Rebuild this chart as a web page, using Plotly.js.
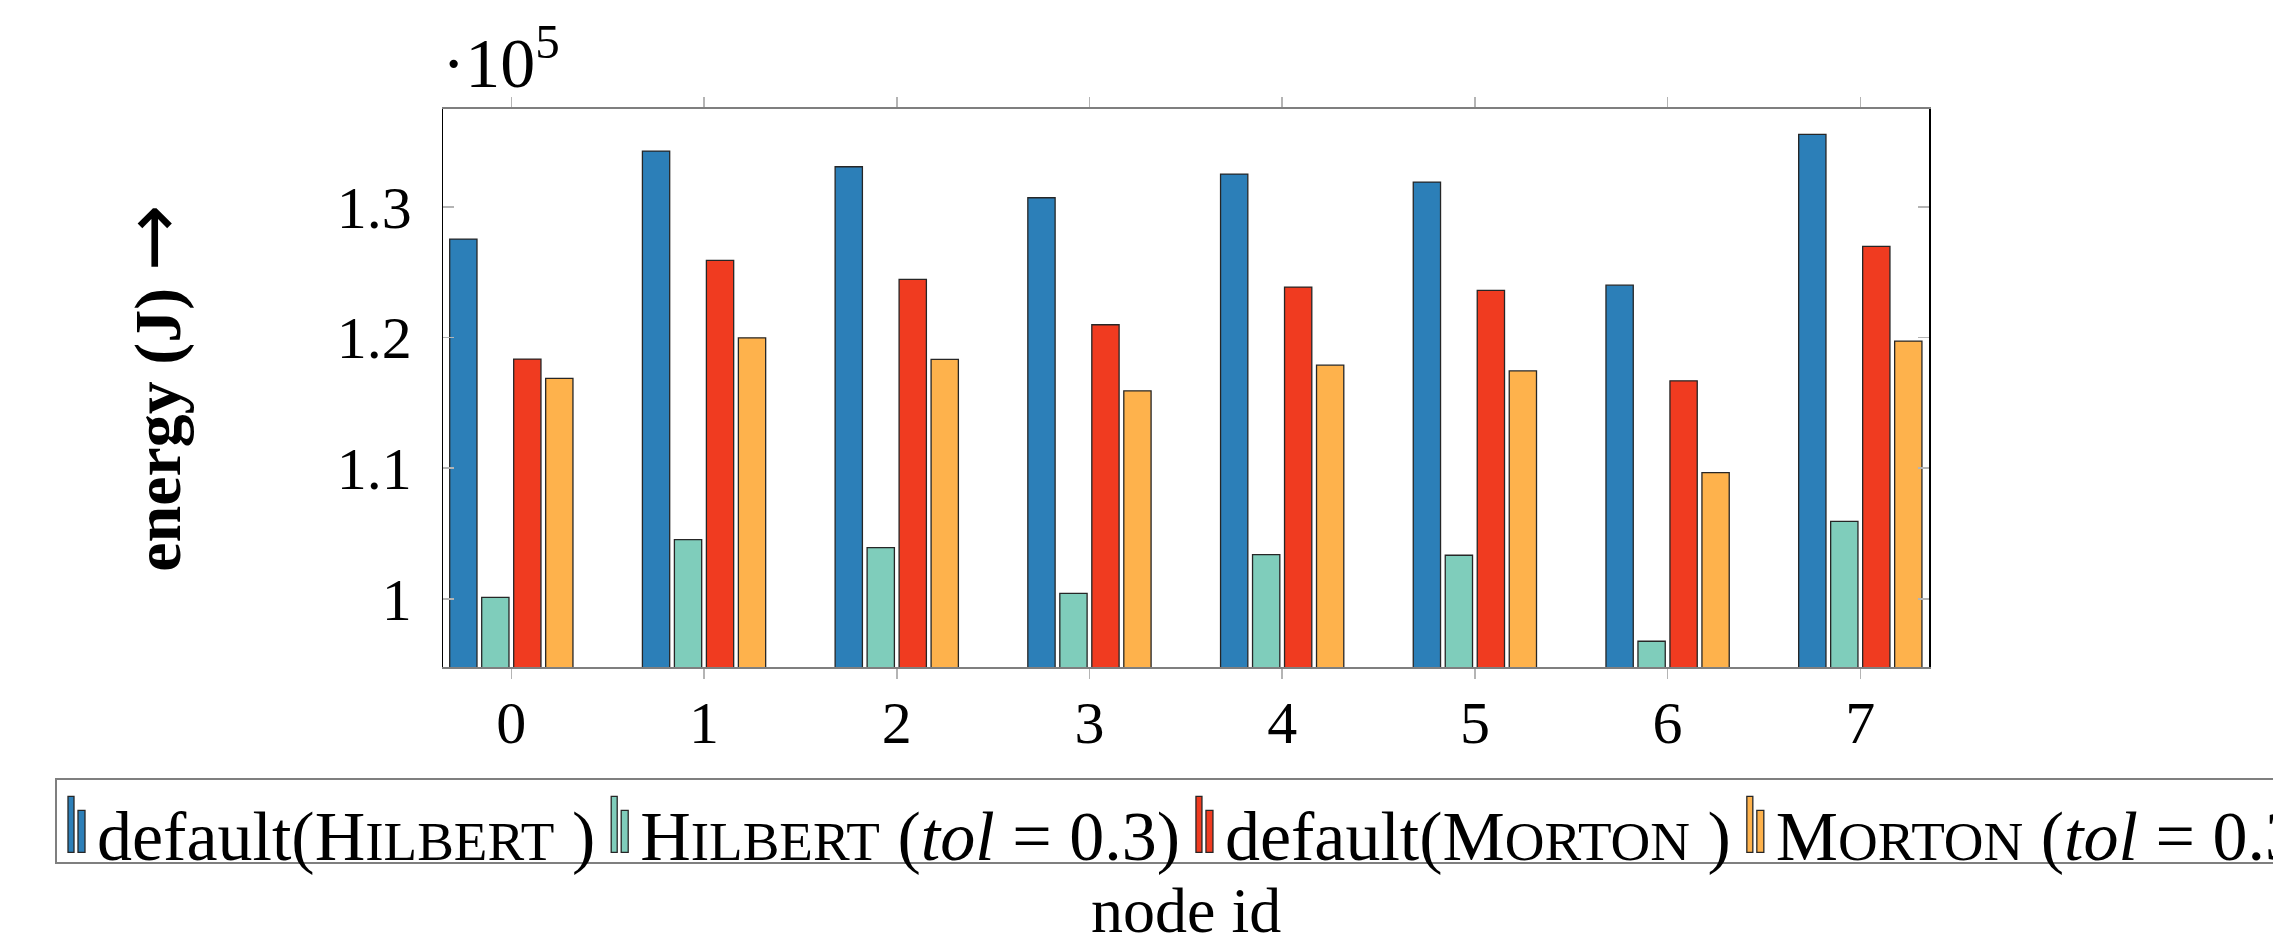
<!DOCTYPE html>
<html>
<head>
<meta charset="utf-8">
<script src="https://cdn.plot.ly/plotly-3.0.1.min.js"></script>
<style>
  html, body { margin: 0; padding: 0; background: #ffffff; overflow: hidden; }
  #chart { width: 2600px; height: 947px; }
  /* pgfplots-style "ybar" legend image: two thin bars */
  #chart .legendpoints path { d: path('M-9,20V-36H-3V20Z M1,20V-22H8V20Z'); }
  /* tighter legend frame, as in the reference */
  #chart .legend rect.bg { height: 84px; }
</style>
</head>
<body>
<div id="chart"></div>
<script>
// ---- data (values in J) ----
const nodeIds = ['0', '1', '2', '3', '4', '5', '6', '7'];
const hilbertDefault = [127530, 134260, 133060, 130690, 132500, 131890, 124000, 135540];
const hilbertTol     = [100110, 104530, 103920, 100420, 103380, 103330,  96750, 105930];
const mortonDefault  = [118340, 125900, 124440, 120970, 123850, 123600, 116680, 126970];
const mortonTol      = [116860, 119970, 118320, 115910, 117880, 117440, 109660, 119720];

const seriesNames = [
  'default(H<span style="font-size:55px">ILBERT</span> )',
  'H<span style="font-size:55px">ILBERT</span> (<i>tol</i> = 0.3)',
  'default(M<span style="font-size:55px">ORTON</span> )',
  'M<span style="font-size:55px">ORTON</span> (<i>tol</i> = 0.3)'
];
const seriesColors = ['#2c7fb8', '#7fcdbb', '#f03b20', '#feb24c'];
const yTickVals = [100000, 110000, 120000, 130000];
const yTickText = ['1', '1.1', '1.2', '1.3'];
const xTitle = 'node id';
const yTitle = '<b>energy (J)</b> <span style="font-family:DejaVu Sans;font-size:80px">→</span>';

const FONT = '"Liberation Serif", "DejaVu Serif", serif';
const W = 2600, H = 947;
const plotL = 443.3, plotR = 1929.3, plotT = 109, plotB = 666.7;
const gsH = plotB - plotT;

const seriesValues = [hilbertDefault, hilbertTol, mortonDefault, mortonTol];
const traces = seriesValues.map((vals, i) => ({
  type: 'bar',
  x: nodeIds,
  y: vals,
  name: seriesNames[i],
  marker: { color: seriesColors[i], line: { color: '#262626', width: 1.3 } },
  hoverinfo: 'skip'
}));

const layout = {
  width: W,
  height: H,
  margin: { l: 0, r: 0, t: plotT, b: H - plotB, pad: 0, autoexpand: false },
  paper_bgcolor: '#ffffff',
  plot_bgcolor: '#ffffff',
  font: { family: FONT, color: '#000000', size: 60 },
  barmode: 'group',
  bargap: 0.336,
  bargroupgap: 0.147,
  showlegend: true,
  xaxis: {
    type: 'category',
    domain: [plotL / W, plotR / W],
    range: [-0.353, 7.358],
    showgrid: false,
    zeroline: false,
    showline: true,
    linecolor: '#7f7f7f',
    linewidth: 2,
    mirror: 'ticks',
    ticks: 'outside',
    ticklen: 10,
    tickwidth: 1.5,
    tickcolor: '#b4b4b4',
    tickfont: { family: FONT, size: 60, color: '#000000' },
    ticklabelstandoff: -8,
    automargin: false
  },
  yaxis: {
    range: [94780, 137480],
    tickmode: 'array',
    tickvals: yTickVals,
    ticktext: yTickText,
    showgrid: false,
    zeroline: false,
    showline: true,
    linecolor: '#000000',
    linewidth: 1.5,
    mirror: 'ticks',
    ticks: 'inside',
    ticklen: 11,
    tickwidth: 1.5,
    tickcolor: '#b4b4b4',
    tickfont: { family: FONT, size: 60, color: '#000000' },
    ticklabelstandoff: 18,
    automargin: false,
    title: {
      text: yTitle,
      font: { family: FONT, size: 66, color: '#000000' },
      standoff: 134
    }
  },
  legend: {
    orientation: 'h',
    x: 55 / W,
    xanchor: 'left',
    y: (plotB - 778) / gsH,
    yanchor: 'top',
    bgcolor: '#ffffff',
    bordercolor: '#7f7f7f',
    borderwidth: 2,
    font: { family: FONT, size: 70, color: '#000000' },
    itemclick: false,
    itemdoubleclick: false,
    tracegroupgap: 0
  },
  annotations: [{
    xref: 'paper', yref: 'paper',
    x: 440 / W, y: (plotB - 104) / gsH,
    xanchor: 'left', yanchor: 'bottom',
    showarrow: false,
    text: '·10<sup>5</sup>',
    font: { family: FONT, size: 70, color: '#000000' }
  }, {
    xref: 'paper', yref: 'paper',
    x: (plotL + plotR) / 2 / W, y: (plotB - 910) / gsH,
    xanchor: 'center', yanchor: 'middle',
    showarrow: false,
    text: xTitle,
    font: { family: FONT, size: 64, color: '#000000' }
  }]
};

Plotly.newPlot('chart', traces, layout, { displayModeBar: false, staticPlot: true });
</script>
</body>
</html>
